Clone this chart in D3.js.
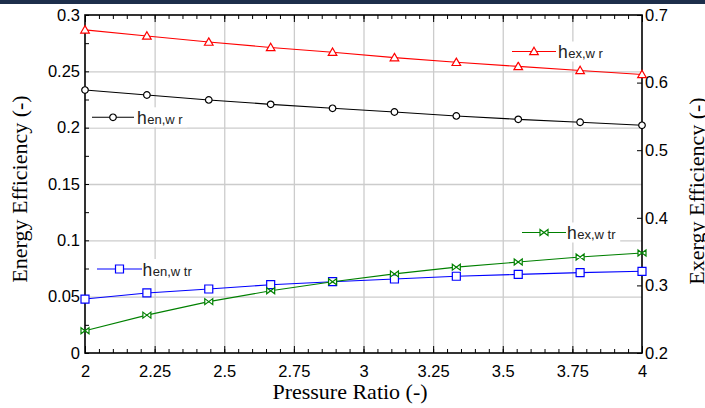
<!DOCTYPE html>
<html><head><meta charset="utf-8">
<script src="https://cdn.jsdelivr.net/npm/d3@7"></script>
<style>body{margin:0;background:#fff}svg{display:block}</style>
</head><body>
<svg id="c" width="705" height="408"></svg>
<script>
const pressureRatio = [2, 2.2222, 2.4444, 2.6667, 2.8889, 3.1111, 3.3333, 3.5556, 3.7778, 4];
const exWr  = [0.678, 0.669, 0.660, 0.652, 0.645, 0.637, 0.630, 0.624, 0.618, 0.612];
const enWr  = [0.2334, 0.2290, 0.2246, 0.2207, 0.2172, 0.2139, 0.2104, 0.2074, 0.2048, 0.2021];
const enWtr = [0.0479, 0.0533, 0.0568, 0.0606, 0.0633, 0.0657, 0.0681, 0.0698, 0.0713, 0.0725];
const exWtr = [0.233, 0.256, 0.276, 0.292, 0.3055, 0.317, 0.327, 0.3346, 0.342, 0.348];
const xTicks = [2, 2.25, 2.5, 2.75, 3, 3.25, 3.5, 3.75, 4];
const yLeftTicks = [0, 0.05, 0.1, 0.15, 0.2, 0.25, 0.3];
const yRightTicks = [0.2, 0.3, 0.4, 0.5, 0.6, 0.7];

const svg = d3.select("#c");
const L = 85, R = 642, T = 15, B = 353;
const x = d3.scaleLinear([2, 4], [L, R]);
const yL = d3.scaleLinear([0, 0.3], [B, T]);
const yR = d3.scaleLinear([0.2, 0.7], [B, T]);

svg.append("rect").attr("x", 0).attr("y", 0).attr("width", 705).attr("height", 4).attr("fill", "#1d2e4b");

// gridlines
const grid = svg.append("g");
grid.append("g").attr("transform", `translate(0,${B})`)
  .call(d3.axisBottom(x).tickValues(xTicks.slice(1, -1)).tickSize(-(B - T)).tickFormat(""))
  .call(g => { g.select(".domain").remove(); g.selectAll("line").attr("stroke", "#cccccc").attr("stroke-width", 1.3); });
grid.append("g").attr("transform", `translate(${L},0)`)
  .call(d3.axisLeft(yL).tickValues(yLeftTicks.slice(1, -1)).tickSize(-(R - L)).tickFormat(""))
  .call(g => { g.select(".domain").remove(); g.selectAll("line").attr("stroke", "#cccccc").attr("stroke-width", 1.3); });

// minor ticks
const xMinor = d3.range(0, 41).map(i => 2 + i * 0.05);
const yMinor = d3.range(0, 13).map(i => i * 0.025);
function styleAxis(g) { g.select(".domain").remove(); g.selectAll("line").attr("stroke", "#000").attr("stroke-width", 1); }
svg.append("g").attr("transform", `translate(0,${B})`).call(d3.axisBottom(x).tickValues(xMinor).tickSize(-4).tickFormat("")).call(styleAxis);
svg.append("g").attr("transform", `translate(0,${T})`).call(d3.axisTop(x).tickValues(xMinor).tickSize(-4).tickFormat("")).call(styleAxis);
svg.append("g").attr("transform", `translate(0,${B})`).call(d3.axisBottom(x).tickValues(xTicks).tickSize(-7).tickFormat("")).call(styleAxis);
svg.append("g").attr("transform", `translate(0,${T})`).call(d3.axisTop(x).tickValues(xTicks).tickSize(-7).tickFormat("")).call(styleAxis);
svg.append("g").attr("transform", `translate(${L},0)`).call(d3.axisLeft(yL).tickValues(yMinor).tickSize(-4).tickFormat("")).call(styleAxis);
svg.append("g").attr("transform", `translate(${R},0)`).call(d3.axisRight(yR).tickValues(yRightTicks).tickSize(-5).tickFormat("")).call(styleAxis);

// tick labels
const font = "'Liberation Sans', Arial, sans-serif";
const xa = svg.append("g").attr("transform", `translate(0,${B})`)
  .call(d3.axisBottom(x).tickValues(xTicks).tickSize(0).tickPadding(12).tickFormat(d3.format("")));
xa.select(".domain").remove();
xa.selectAll("text").attr("font-family", font).attr("font-size", 16.5).attr("fill", "#000");
const yla = svg.append("g").attr("transform", `translate(${L},0)`)
  .call(d3.axisLeft(yL).tickValues(yLeftTicks).tickSize(0).tickPadding(5).tickFormat(d3.format("")));
yla.select(".domain").remove();
yla.selectAll("text").attr("font-family", font).attr("font-size", 16.5).attr("fill", "#000");
const yra = svg.append("g").attr("transform", `translate(${R},0)`)
  .call(d3.axisRight(yR).tickValues(yRightTicks).tickSize(0).tickPadding(3).tickFormat(d3.format("")));
yra.select(".domain").remove();
yra.selectAll("text").attr("font-family", font).attr("font-size", 16.5).attr("fill", "#000");

// frame
svg.append("rect").attr("x", L).attr("y", T).attr("width", R - L).attr("height", B - T)
  .attr("fill", "none").attr("stroke", "#000").attr("stroke-width", 1.6);

// markers
const sym = {
  tri: "M0,-4.2L4.3,3.2L-4.3,3.2Z",
  circ: d3.symbol(d3.symbolCircle, 34)(),
  sq: "M-4,-4L4,-4L4,4L-4,4Z",
  bow: "M-4,-3L4,3L4,-3L-4,3Z"
};
const series = [
  { vals: exWr, y: yR, color: "#ff0000", m: "tri", sub: "ex,w r", lx: [512, 556], ly: 51.5, tx: 558 },
  { vals: enWr, y: yL, color: "#000000", m: "circ", sub: "en,w r", lx: [92, 134], ly: 117.3, tx: 137 },
  { vals: enWtr, y: yL, color: "#0000ff", m: "sq", sub: "en,w tr", lx: [97, 142], ly: 269, tx: 142.5 },
  { vals: exWtr, y: yR, color: "#008000", m: "bow", sub: "ex,w tr", lx: [522, 566], ly: 232.5, tx: 567 }
];
series.forEach(s => {
  const pts = pressureRatio.map((p, i) => [x(p), s.y(s.vals[i])]);
  svg.append("path").attr("d", d3.line()(pts)).attr("fill", "none").attr("stroke", s.color).attr("stroke-width", 1.1);
  svg.append("g").selectAll("path").data(pts).join("path")
    .attr("transform", d => `translate(${d[0]},${d[1]})`).attr("d", sym[s.m])
    .attr("fill", "#fff").attr("stroke", s.color).attr("stroke-width", 1.2);
});
// legends
series.forEach(s => {
  const g = svg.append("g");
  const bg = g.append("rect").attr("fill", "#fff");
  g.append("line").attr("x1", s.lx[0]).attr("x2", s.lx[1]).attr("y1", s.ly).attr("y2", s.ly)
    .attr("stroke", s.color).attr("stroke-width", 1.1);
  g.append("path").attr("transform", `translate(${(s.lx[0] + s.lx[1]) / 2},${s.ly})`).attr("d", sym[s.m])
    .attr("fill", "#fff").attr("stroke", s.color).attr("stroke-width", 1.2);
  const t = g.append("text").attr("x", s.tx).attr("y", s.ly + 6.5).attr("font-family", font).attr("fill", "#222");
  t.append("tspan").attr("font-size", 17.5).text("h");
  t.append("tspan").attr("font-size", 13).attr("dx", 0.5).text(s.sub);
  const bb = t.node().getBBox();
  bg.attr("x", s.lx[0] - 2).attr("y", s.ly - 10).attr("width", bb.x + bb.width - s.lx[0] + 6).attr("height", 20);
});

// axis titles
const serif = "'Liberation Serif', 'Times New Roman', serif";
svg.append("text").attr("x", 350).attr("y", 399).attr("text-anchor", "middle")
  .attr("font-family", serif).attr("font-size", 22).text("Pressure Ratio (-)");
svg.append("text").attr("transform", "translate(27,189) rotate(-90)").attr("text-anchor", "middle")
  .attr("font-family", serif).attr("font-size", 22).text("Energy Efficiency (-)");
svg.append("text").attr("transform", "translate(704,191) rotate(-90)").attr("text-anchor", "middle")
  .attr("font-family", serif).attr("font-size", 22).text("Exergy Efficiency (-)");
</script>
</body></html>
